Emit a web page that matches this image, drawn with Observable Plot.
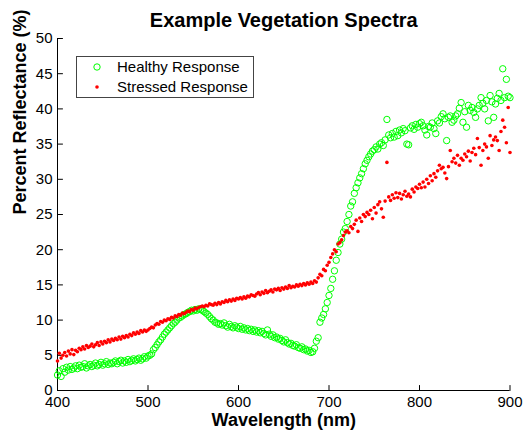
<!DOCTYPE html>
<html><head><meta charset="utf-8">
<script src="https://cdn.jsdelivr.net/npm/d3@7"></script>
<script src="https://cdn.jsdelivr.net/npm/@observablehq/plot@0.6"></script>
<style>body{margin:0;background:#fff;}</style>
</head><body><div id="chart"></div>
<script>
const wavelengths = [
400,402,404,406,408,410,412,414,416,418,
420,422,424,426,428,430,432,434,436,438,440,
442,444,446,448,450,452,454,456,458,460,
462,464,466,468,470,472,474,476,478,480,
482,484,486,488,490,492,494,496,498,500,
502,504,506,508,510,512,514,516,518,520,
522,524,526,528,530,532,534,536,538,540,
542,544,546,548,550,552,554,556,558,560,
562,564,566,568,570,572,574,576,578,580,
582,584,586,588,590,592,594,596,598,600,
602,604,606,608,610,612,614,616,618,620,
622,624,626,628,630,632,634,636,638,640,
642,644,646,648,650,652,654,656,658,660,
662,664,666,668,670,672,674,676,678,680,
682,684,686,688,690,692,694,696,698,700,
702,704,706,708,710,712,714,716,718,720,
722,724,726,728,730,732,734,736,738,740,
742,744,746,748,750,752,754,756,758,760,
762,764,766,768,770,772,774,776,778,780,
782,784,786,788,790,792,794,796,798,800,
802,804,806,808,810,812,814,816,818,820,
822,824,826,828,830,832,834,836,838,840,
842,844,846,848,850,852,854,856,858,860,
862,864,866,868,870,872,874,876,878,880,
882,884,886,888,890,892,894,896,898,900];

const healthy = [
2.2,2.8,2.0,3.1,2.6,3.3,2.9,3.4,3.0,3.2,
3.5,3.1,3.6,3.3,3.4,3.8,3.2,3.5,3.7,3.4,3.6,
3.9,3.5,3.7,4.0,3.6,3.8,4.1,3.7,3.9,3.8,
4.0,4.2,3.8,4.1,4.3,3.9,4.2,4.0,4.4,4.1,
4.3,4.5,4.2,4.4,4.6,4.3,4.5,4.8,4.6,4.9,
5.0,5.2,5.8,6.1,6.5,6.9,7.2,7.6,8.0,8.3,
8.6,8.9,9.2,9.5,9.7,10.0,10.3,10.4,10.6,10.8,
10.9,11.1,11.2,11.4,11.3,11.5,11.4,11.6,11.5,11.4,
11.2,11.0,10.8,10.5,10.2,10.0,9.7,9.6,9.4,9.5,
9.3,9.6,9.2,9.0,9.4,9.1,8.9,9.2,9.0,8.8,
9.1,8.7,8.9,8.6,8.8,8.5,8.7,8.4,8.6,8.3,
8.5,8.2,8.4,8.1,7.9,8.6,8.0,7.7,7.9,7.5,
7.6,7.3,7.4,7.1,6.9,7.2,6.8,6.6,6.7,6.4,
6.3,6.5,6.1,6.0,6.2,5.8,5.9,5.6,5.7,5.4,
5.5,6.0,7.0,7.5,9.7,10.3,10.8,11.6,12.5,13.5,
14.5,15.8,17.0,18.5,19.6,20.8,21.5,22.5,23.0,24.0,
25.0,26.2,26.8,28.0,28.8,29.5,30.2,30.8,31.5,32.2,
32.7,33.2,33.6,34.0,34.2,34.6,34.3,35.0,35.2,34.8,
35.6,38.5,36.3,35.9,36.5,36.0,36.8,36.2,37.0,36.6,
37.2,36.9,35.0,34.9,37.3,37.6,37.1,37.8,37.4,37.9,
38.1,37.6,37.0,36.3,37.5,37.4,38.0,37.2,36.5,38.3,
38.0,38.9,39.3,38.6,35.5,38.8,39.0,38.1,38.4,39.0,
39.3,40.1,40.9,38.1,39.6,37.4,40.5,39.8,40.2,39.5,
38.8,40.0,40.5,41.6,40.8,40.0,41.2,38.3,41.9,41.0,
38.8,40.7,41.5,42.2,41.2,45.7,41.6,44.2,41.8,41.6];

const stressed = [
4.2,5.3,4.6,5.0,5.4,4.9,5.6,5.2,5.8,5.1,
5.7,5.5,6.0,5.8,6.2,5.9,6.4,6.1,6.3,6.6,6.2,
6.5,6.8,6.4,6.9,6.6,7.0,6.8,7.2,6.9,7.3,
7.1,7.4,7.2,7.6,7.3,7.7,7.5,7.8,7.6,8.0,
7.8,8.2,8.0,8.3,8.1,8.5,8.3,8.6,8.4,8.6,
8.8,9.0,8.9,9.3,9.5,9.4,9.8,9.7,10.0,9.9,
10.2,10.1,10.4,10.3,10.6,10.5,10.8,10.7,11.0,10.9,
11.1,11.3,11.2,11.5,11.4,11.7,11.6,11.8,11.9,12.0,
11.9,12.1,12.0,12.3,12.2,12.1,12.4,12.2,12.5,12.3,
12.6,12.5,12.8,12.6,12.9,12.7,13.0,12.8,13.1,13.0,
13.2,13.0,13.3,13.1,13.4,13.3,13.6,13.5,13.4,13.7,
13.9,13.6,14.0,13.8,14.2,13.9,14.1,14.3,14.0,14.4,
14.3,14.5,14.2,14.6,14.4,14.7,14.5,14.9,14.6,14.8,
14.7,15.0,14.8,15.1,14.9,15.2,15.0,15.3,15.1,15.4,
15.2,15.6,15.4,16.0,16.5,16.3,17.2,17.0,17.8,18.2,
18.9,19.4,20.0,19.7,20.8,21.0,21.4,22.0,22.5,22.7,
22.4,23.3,23.0,23.6,24.2,22.6,24.5,24.0,25.0,24.7,
25.3,25.0,25.6,24.4,26.0,25.2,26.4,26.8,25.8,24.6,
26.9,32.4,27.5,27.0,27.8,27.3,28.1,27.4,28.0,27.2,
27.8,28.3,27.6,27.9,27.5,28.6,28.2,28.9,28.7,29.3,
28.8,29.6,28.9,30.0,29.4,30.5,29.8,30.8,30.3,31.2,
32.0,31.5,31.7,30.9,30.1,31.8,34.1,32.5,33.0,32.3,
33.4,32.0,33.0,32.7,33.6,33.2,34.0,32.6,33.8,34.4,
33.5,35.8,34.5,32.0,34.1,35.0,34.6,33.0,36.2,34.8,
35.6,36.0,35.5,34.1,36.8,38.4,37.4,35.2,40.2,33.8];

const xTicks = [400, 500, 600, 700, 800, 900];
const yTicks = [0, 5, 10, 15, 20, 25, 30, 35, 40, 45, 50];
const titleText = "Example Vegetation Spectra";
const xLabel = "Wavelength (nm)";
const yLabel = "Percent Reflectance (%)";
const seriesNames = ["Healthy Response", "Stressed Response"];
const seriesColors = ["#00ff00", "#ff0000"];

const healthyData = wavelengths.map((w, i) => ({w, v: healthy[i]}));
const stressedData = wavelengths.map((w, i) => ({w, v: stressed[i]}));

const tickShape = {draw(context, l) { context.moveTo(0, 0); context.lineTo(0, -l); }};

const plot = Plot.plot({
  width: 527, height: 430,
  marginLeft: 57, marginRight: 17.5, marginTop: 38, marginBottom: 40,
  style: {fontFamily: "'Liberation Sans', Arial, sans-serif", fontSize: "15px", color: "#000", background: "#fff", overflow: "visible"},
  x: {domain: [400, 900]},
  y: {domain: [0, 50]},
  marks: [
    Plot.axisX({ticks: xTicks, tickSize: 0, tickPadding: 6, tickFormat: d => String(d), label: null, fontSize: 15}),
    Plot.axisY({ticks: yTicks, tickSize: 0, tickPadding: 5, tickFormat: d => String(d), label: null, fontSize: 15}),
    Plot.vector(xTicks, {x: d => d, y: 0, length: 5, rotate: 0, anchor: "start", shape: tickShape, stroke: "#000", strokeWidth: 1}),
    Plot.vector(yTicks, {x: 400, y: d => d, length: 5, rotate: 90, anchor: "start", shape: tickShape, stroke: "#000", strokeWidth: 1}),
    Plot.ruleX([400], {stroke: "#000"}),
    Plot.ruleY([0], {stroke: "#000"}),
    Plot.dot(healthyData, {x: "w", y: "v", r: 3.2, stroke: seriesColors[0], strokeWidth: 1, fill: "none"}),
    Plot.dot(stressedData, {x: "w", y: "v", r: 1.8, fill: seriesColors[1], stroke: "none"}),
    Plot.text([titleText], {text: d => d, frameAnchor: "top", lineAnchor: "bottom", dy: -12, fontWeight: "bold", fontSize: 20}),
    Plot.text([xLabel], {text: d => d, frameAnchor: "bottom", lineAnchor: "bottom", dy: 35, fontWeight: "bold", fontSize: 18}),
    Plot.text([yLabel], {text: d => d, frameAnchor: "left", lineAnchor: "middle", rotate: -90, dx: -37, fontWeight: "bold", fontSize: 18})
  ]
});

// legend box
const svg = d3.select(plot);
const lg = svg.append("g").attr("font-family", "'Liberation Sans', Arial, sans-serif").attr("font-size", 15).attr("text-anchor", "start");
lg.append("rect").attr("x", 76.5).attr("y", 56.5).attr("width", 177).attr("height", 41)
  .attr("fill", "#fff").attr("stroke", "#444").attr("stroke-width", 1);
seriesNames.forEach((name, i) => {
  const cy = 67 + i * 20;
  if (i === 0) {
    lg.append("circle").attr("cx", 97).attr("cy", cy).attr("r", 3.2).attr("fill", "none").attr("stroke", seriesColors[i]);
  } else {
    lg.append("circle").attr("cx", 97).attr("cy", cy).attr("r", 1.8).attr("fill", seriesColors[i]);
  }
  lg.append("text").attr("x", 117).attr("y", cy).attr("dy", "0.35em").attr("text-anchor", "start").attr("fill", "#000").text(name);
});

document.getElementById("chart").appendChild(plot);
</script>
</body></html>
